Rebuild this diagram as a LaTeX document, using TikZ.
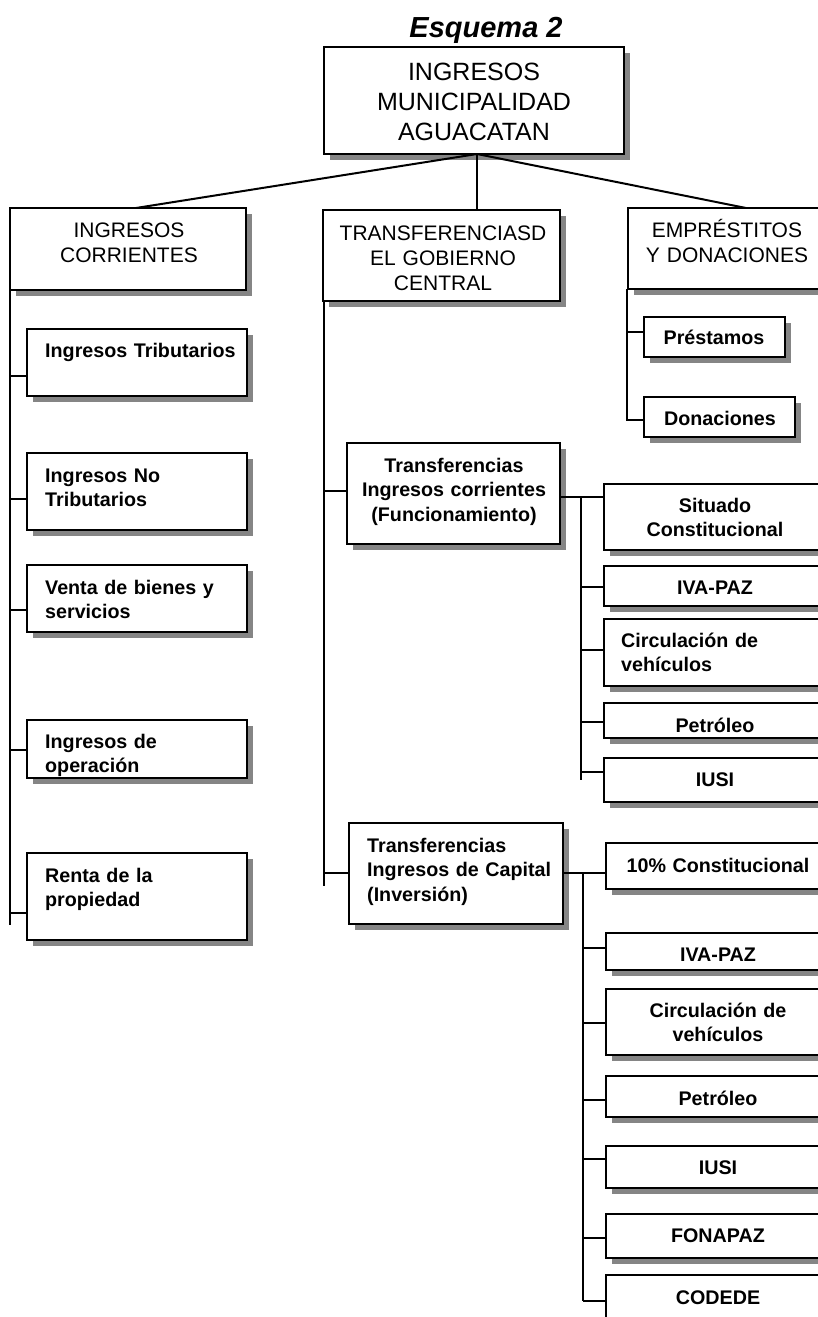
\documentclass[tikz,border=0pt]{standalone}
\usepackage{fontspec}
\setmainfont{Liberation Sans}
\definecolor{shadowgray}{gray}{0.52}
\newcommand\ftitle{\fontsize{29}{34}\selectfont\bfseries\itshape}
\newcommand\ftop{\fontsize{25}{30}\selectfont}
\newcommand\fsec{\fontsize{21}{25}\selectfont}
\newcommand\fsub{\fontsize{19.7}{24.5}\selectfont\bfseries}
\tikzset{
  bx/.style={draw=black, line width=2.2pt, fill=white, rectangle, inner sep=0pt, outer sep=0pt, anchor=north west},
  ln/.style={draw=black, line width=2pt},
  ctxt/.style={inner sep=0pt, anchor=base, text width=#1, align=center},
  ltxt/.style={inner sep=0pt, anchor=base west, text width=#1, align=left},
}
% name, x1, y1, x2, y2
\newcommand\shbox[5]{%
  \fill[shadowgray] ({#2+6},{#3+6}) rectangle ({#4+6},{#5+6});
  \node[bx, minimum width={(#4-#2)*1pt}, minimum height={(#5-#3)*1pt}] (#1) at (#2,#3) {};
}
\begin{document}
\begin{tikzpicture}[x=1pt,y=-1pt]
\useasboundingbox (0,0) rectangle (817,1317);
\fill[white] (0,0) rectangle (817,1317);

% title
\node[inner sep=0pt, anchor=base, font=\ftitle] (title) at (486,37) {Esquema 2};

% boxes
\shbox{top}{324}{47}{624}{154}
\shbox{ic}{10}{208}{246}{290}
\shbox{tg}{323}{210}{560}{301}
\shbox{ed}{628}{208}{840}{289}
\shbox{it}{27}{329}{247}{396}
\shbox{nt}{27}{453}{247}{530}
\shbox{vb}{27}{565}{247}{632}
\shbox{io}{27}{720}{247}{778}
\shbox{rp}{27}{853}{247}{940}
\shbox{pr}{644}{317}{785}{357}
\shbox{dn}{644}{397}{795}{437}
\shbox{tc}{347}{443}{560}{544}
\shbox{sa}{604}{484}{840}{550}
\shbox{sb}{604}{566}{840}{606}
\shbox{sc}{604}{619}{840}{686}
\shbox{sd}{604}{703}{840}{738}
\shbox{se}{604}{758}{840}{802}
\shbox{tk}{349}{823}{563}{924}
\shbox{ka}{606}{843}{840}{889}
\shbox{kb}{606}{933}{840}{970}
\shbox{kc}{606}{989}{840}{1055}
\shbox{kd}{606}{1076}{840}{1117}
\shbox{ke}{606}{1146}{840}{1188}
\shbox{kf}{606}{1214}{840}{1258}
\shbox{kg}{606}{1275}{840}{1360}

% texts
\node[ctxt=300pt, font=\ftop] (topt) at (474,80) {INGRESOS\\MUNICIPALIDAD\\AGUACATAN};
\node[ctxt=230pt, font=\fsec] (ict) at (129,237) {INGRESOS\\CORRIENTES};
\node[ctxt=235pt, font=\fsec] (tgt) at (443,240) {TRANSFERENCIASD\\EL GOBIERNO\\CENTRAL};
\node[ctxt=200pt, font=\fsec] (edt) at (727,237) {EMPRÉSTITOS\\Y DONACIONES};

\node[ltxt=200pt, font=\fsub] (itt) at (45,357) {Ingresos Tributarios};
\node[ltxt=200pt, font=\fsub] (ntt) at (45,482) {Ingresos No\\Tributarios};
\node[ltxt=200pt, font=\fsub] (vbt) at (45,594) {Venta de bienes y\\servicios};
\node[ltxt=200pt, font=\fsub] (iot) at (45,748) {Ingresos de\\operación};
\node[ltxt=200pt, font=\fsub] (rpt) at (45,882) {Renta de la\\propiedad};

\node[ctxt=150pt, font=\fsub] (prt) at (714,344) {Préstamos};
\node[ctxt=150pt, font=\fsub] (dnt) at (720,425) {Donaciones};

\node[ctxt=210pt, font=\fsub] (tct) at (454,472) {Transferencias\\Ingresos corrientes\\(Funcionamiento)};
\node[ctxt=210pt, font=\fsub] (sat) at (715,512) {Situado\\Constitucional};
\node[ctxt=210pt, font=\fsub] (sbt) at (715,594) {IVA-PAZ};
\node[ltxt=200pt, font=\fsub] (sct) at (621,647) {Circulación de\\vehículos};
\node[ctxt=210pt, font=\fsub] (sdt) at (715,732) {Petróleo};
\node[ctxt=210pt, font=\fsub] (set) at (715,786) {IUSI};

\node[ltxt=200pt, font=\fsub] (tkt) at (367,852) {Transferencias\\Ingresos de Capital\\(Inversión)};
\node[ctxt=210pt, font=\fsub] (kat) at (718,872) {10\% Constitucional};
\node[ctxt=210pt, font=\fsub] (kbt) at (718,961) {IVA-PAZ};
\node[ctxt=210pt, font=\fsub] (kct) at (718,1017) {Circulación de\\vehículos};
\node[ctxt=210pt, font=\fsub] (kdt) at (718,1105) {Petróleo};
\node[ctxt=210pt, font=\fsub] (ket) at (718,1174) {IUSI};
\node[ctxt=210pt, font=\fsub] (kft) at (718,1242) {FONAPAZ};
\node[ctxt=210pt, font=\fsub] (kgt) at (718,1304) {CODEDE};

% top connectors
\coordinate (tj) at (477,154);
\draw[ln] (tj) -- ([xshift=8pt]ic.north);
\draw[ln] (tj) -- (tj |- tg.north);
\draw[ln] (tj) -- ([xshift=12pt]ed.north);

% left bus
\coordinate (lbe) at (10,925);
\draw[ln] (ic.south west) -- (lbe);
\coordinate (l1) at (10,376); \draw[ln] (l1) -- (l1 -| it.west);
\coordinate (l2) at (10,499); \draw[ln] (l2) -- (l2 -| nt.west);
\coordinate (l3) at (10,610); \draw[ln] (l3) -- (l3 -| vb.west);
\coordinate (l4) at (10,750); \draw[ln] (l4) -- (l4 -| io.west);
\coordinate (l5) at (10,913); \draw[ln] (l5) -- (l5 -| rp.west);

% right bus
\coordinate (rbe) at (627,421);
\draw[ln] (rbe |- ed.south) -- (rbe);
\coordinate (r1) at (627,332); \draw[ln] (r1) -- (r1 -| pr.west);
\coordinate (r2) at (627,420); \draw[ln] (r2) -- (r2 -| dn.west);

% middle bus
\coordinate (mbe) at (324,886);
\draw[ln] (mbe |- tg.south) -- (mbe);
\coordinate (m1) at (324,491); \draw[ln] (m1) -- (m1 -| tc.west);
\coordinate (m2) at (324,873); \draw[ln] (m2) -- (m2 -| tk.west);

% sub bus 1
\coordinate (s0) at (560,497);
\draw[ln] (s0) -- (s0 -| sa.west);
\coordinate (sbe) at (581,780);
\draw[ln] (sbe |- s0) -- (sbe);
\coordinate (q2) at (581,587); \draw[ln] (q2) -- (q2 -| sb.west);
\coordinate (q3) at (581,650); \draw[ln] (q3) -- (q3 -| sc.west);
\coordinate (q4) at (581,722); \draw[ln] (q4) -- (q4 -| sd.west);
\coordinate (q5) at (581,772); \draw[ln] (q5) -- (q5 -| se.west);

% sub bus 2
\coordinate (k0) at (563,873);
\draw[ln] (k0) -- (k0 -| ka.west);
\coordinate (kbe) at (583,1301);
\draw[ln] (kbe |- k0) -- (kbe);
\coordinate (p2) at (583,948); \draw[ln] (p2) -- (p2 -| kb.west);
\coordinate (p3) at (583,1023); \draw[ln] (p3) -- (p3 -| kc.west);
\coordinate (p4) at (583,1100); \draw[ln] (p4) -- (p4 -| kd.west);
\coordinate (p5) at (583,1159); \draw[ln] (p5) -- (p5 -| ke.west);
\coordinate (p6) at (583,1238); \draw[ln] (p6) -- (p6 -| kf.west);
\draw[ln] (kbe) -- (kbe -| kg.west);
\end{tikzpicture}
\end{document}
